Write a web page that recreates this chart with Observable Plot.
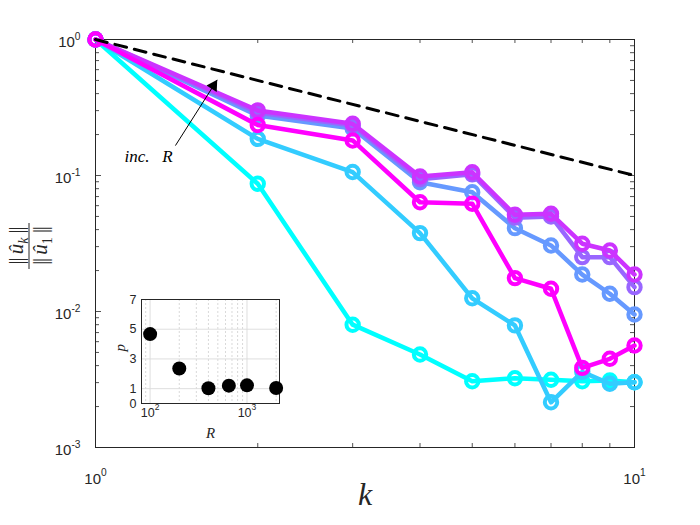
<!DOCTYPE html>
<html><head><meta charset="utf-8">
<script src="https://cdn.jsdelivr.net/npm/d3@7"></script>
<script src="https://cdn.jsdelivr.net/npm/@observablehq/plot@0.6"></script>
<style>
body{margin:0;background:#fff}
#wrap{position:relative;width:700px;height:525px;overflow:hidden}
</style>
</head><body><div id="wrap"></div>
<script>
// ---- data ----
const kValues = [1, 2, 3, 4, 5, 6, 7, 8, 9, 10];
const seriesR = [100, 200, 400, 650, 1000, 2000];
const seriesColors = ["#00ffff", "#33ccff", "#6699ff", "#9966ff", "#cc33ff", "#ff00ff"];
const uR100  = [1, 0.0869, 0.0080, 0.00483, 0.00307, 0.00323, 0.00315, 0.00307, 0.00311, 0.00302];
const uR200  = [1, 0.186, 0.106, 0.0377, 0.0125, 0.0079, 0.00215, 0.0036, 0.00294, 0.00302];
const uR400  = [1, 0.276, 0.222, 0.0893, 0.0754, 0.041, 0.0306, 0.0187, 0.0135, 0.0095];
const uR650  = [1, 0.290, 0.233, 0.094, 0.102, 0.049, 0.050, 0.0251, 0.0251, 0.0151];
const uR1000 = [1, 0.301, 0.240, 0.0984, 0.1057, 0.0514, 0.0523, 0.0315, 0.0281, 0.0187];
const uR2000 = [1, 0.235, 0.181, 0.0636, 0.062, 0.0176, 0.0147, 0.00385, 0.00449, 0.00562];
const refK = [1, 10];
const refV = [1, 0.1];
const arrowK = [1.407, 1.682];
const arrowV = [0.166, 0.505];
const noteK = [1.132];
const noteV = [0.1387];
const noteText = ["inc.\u2002 R"];
const xMajorTicks = [1, 10];
const xMinorTicks = [2, 3, 4, 5, 6, 7, 8, 9];
const yMajorTicks = [0.001, 0.01, 0.1, 1];
const insetR = [100, 200, 400, 650, 1000, 2000];
const insetP = [4.67, 2.36, 1.03, 1.2, 1.22, 1.04];
const insetYTicks = [0, 1, 3, 5, 7];
const insetYGrid = [1, 3, 5];
const insetXTicks = [100, 1000];
const insetXMinor = [90, 200, 300, 400, 500, 600, 700, 800, 900, 2000];

// ---- build ----
const uSeries = [uR100, uR200, uR400, uR650, uR1000, uR2000];
const series = uSeries.map((arr, i) => kValues.map((k, j) => ({k, v: arr[j], R: seriesR[i]})));
const refData = refK.map((k, i) => ({k, v: refV[i]}));
const arrowData = [{k1: arrowK[0], v1: arrowV[0], k2: arrowK[1], v2: arrowV[1]}];
const noteData = noteK.map((k, i) => ({k, v: noteV[i], t: noteText[i]}));
const yMinorTicks = [];
for (const d of yMajorTicks.slice(0, 3)) for (let m = 2; m <= 9; m++) yMinorTicks.push(+(d * m).toPrecision(3));
const insetData = insetR.map((R, i) => ({R, p: insetP[i]}));

const W = 700, H = 525, ML = 95, MR = 66, MT = 39, MB = 78;
const PW = W - ML - MR, PH = H - MT - MB;
const AX = "#262626";
const sans = "Liberation Sans, Arial, sans-serif";
const serif = "Liberation Serif, DejaVu Serif, serif";
const expo = d => "10^" + Math.round(Math.log10(d));

const main = Plot.plot({
  width: W, height: H,
  marginLeft: ML, marginRight: MR, marginTop: MT, marginBottom: MB,
  x: {type: "log", domain: [1, 10], axis: null},
  y: {type: "log", domain: [0.001, 1], axis: null},
  style: {background: "white", fontFamily: sans, overflow: "visible"},
  marks: [
    // inward ticks on all four sides
    Plot.ruleX(xMinorTicks, {x: d => d, insetTop: PH - 4, stroke: AX, strokeWidth: 0.8}),
    Plot.ruleX(xMinorTicks, {x: d => d, insetBottom: PH - 4, stroke: AX, strokeWidth: 0.8}),
    Plot.ruleY(yMinorTicks, {y: d => d, insetRight: PW - 4, stroke: AX, strokeWidth: 0.8}),
    Plot.ruleY(yMinorTicks, {y: d => d, insetLeft: PW - 4, stroke: AX, strokeWidth: 0.8}),
    Plot.ruleY(yMajorTicks, {y: d => d, insetRight: PW - 6, stroke: AX, strokeWidth: 0.8}),
    Plot.ruleY(yMajorTicks, {y: d => d, insetLeft: PW - 6, stroke: AX, strokeWidth: 0.8}),
    Plot.frame({stroke: AX, strokeWidth: 1}),
    ...series.flatMap((s, i) => [
      Plot.line(s, {x: "k", y: "v", stroke: seriesColors[i], strokeWidth: 4.5}),
      Plot.dot(s, {x: "k", y: "v", r: 6.2, stroke: seriesColors[i], strokeWidth: 4, fill: "none"})
    ]),
    Plot.line(refData, {x: "k", y: "v", stroke: "black", strokeWidth: 3, strokeDasharray: "12,8"}),
    Plot.link(arrowData, {x1: "k1", y1: "v1", x2: "k2", y2: "v2", stroke: "black", strokeWidth: 1}),
    Plot.dot(arrowData, {x: "k2", y: "v2", symbol: "triangle", r: 4.5, fill: "black", stroke: "none", rotate: 32.4, dx: -3.75, dy: 5.9}),
    Plot.text(noteData, {x: "k", y: "v", text: "t", textAnchor: "start", fontFamily: serif, fontStyle: "italic", fontSize: 17, fill: "black"}),
    // tick labels
    Plot.text(xMajorTicks, {x: d => d, frameAnchor: "bottom", dy: 36, text: expo, fontSize: 15, fill: AX, fontFamily: sans}),
    Plot.text(yMajorTicks, {y: d => d, frameAnchor: "left", dx: -15, dy: 3, textAnchor: "end", text: expo, fontSize: 15, fill: AX, fontFamily: sans}),
    // x label
    Plot.text(["k"], {frameAnchor: "bottom", dy: 57, text: d => d, fontFamily: serif, fontStyle: "italic", fontSize: 32, fill: AX})
  ]
});

const inset = Plot.plot({
  width: 195, height: 170,
  marginLeft: 46, marginRight: 11, marginTop: 14, marginBottom: 52,
  x: {type: "log", domain: [81.5, 2166], axis: null},
  y: {domain: [0, 7], axis: null},
  style: {position: "absolute", left: "95px", top: "285px", background: "transparent", overflow: "visible", fontFamily: sans},
  marks: [
    Plot.frame({fill: "white", stroke: "none"}),
    Plot.ruleX(insetXMinor, {x: d => d, stroke: "#c8c8c8", strokeWidth: 0.7, strokeDasharray: "2,2"}),
    Plot.ruleX(insetXTicks, {x: d => d, stroke: "#dadada", strokeWidth: 0.9}),
    Plot.ruleY(insetYGrid, {y: d => d, stroke: "#dadada", strokeWidth: 0.9}),
    Plot.frame({stroke: AX, strokeWidth: 1}),
    Plot.dot(insetData, {x: "R", y: "p", r: 7, fill: "black", stroke: "none"}),
    Plot.text(insetYTicks, {y: d => d, frameAnchor: "left", dx: -5, textAnchor: "end", text: d => String(d), fontSize: 12.5, fill: AX, fontFamily: sans}),
    Plot.text(insetXTicks, {x: d => d, frameAnchor: "bottom", dy: 13, text: expo, fontSize: 12.5, fill: AX, fontFamily: sans}),
    Plot.text(["p"], {frameAnchor: "left", dx: -21, rotate: -90, text: d => d, fontFamily: serif, fontStyle: "italic", fontSize: 15, fill: AX}),
    Plot.text(["R"], {frameAnchor: "bottom", dy: 34, text: d => d, fontFamily: serif, fontStyle: "italic", fontSize: 15, fill: AX})
  ]
});

const wrap = document.getElementById("wrap");
wrap.appendChild(main);
wrap.appendChild(inset);

// superscript exponents in tick labels
for (const svg of [main, inset]) {
  d3.select(svg).selectAll("text").each(function () {
    const m = /^10\^(-?\d+)$/.exec(this.textContent);
    if (!m) return;
    const sel = d3.select(this);
    sel.text(null);
    sel.append("tspan").text("10");
    sel.append("tspan").attr("font-size", "0.68em").attr("dy", "-0.75em").text(m[1]);
  });
}

// y-axis label: ||û_k|| / ||û_1||
const g = d3.select(main).append("g")
  .attr("transform", "translate(29,246) rotate(-90)")
  .attr("fill", AX)
  .attr("font-family", serif)
  .attr("font-size", 21);
function normPart(y, sub, subItalic) {
  const t = g.append("text").attr("text-anchor", "middle").attr("y", y);
  t.append("tspan").attr("letter-spacing", -1.3).text("||");
  t.append("tspan").text("\u2009");
  t.append("tspan").attr("font-style", "italic").text("\u00fb");
  t.append("tspan").attr("font-style", subItalic ? "italic" : "normal").attr("font-size", 14).attr("dy", 4.5).text(sub);
  t.append("tspan").attr("dy", -4.5).text("\u2009");
  t.append("tspan").attr("letter-spacing", -1.3).text("||");
  return t;
}
normPart(-6, "k", true);
g.append("line").attr("x1", -23).attr("x2", 23).attr("y1", 0).attr("y2", 0).attr("stroke", AX).attr("stroke-width", 1);
normPart(18, "1", false);
</script>
</body></html>
